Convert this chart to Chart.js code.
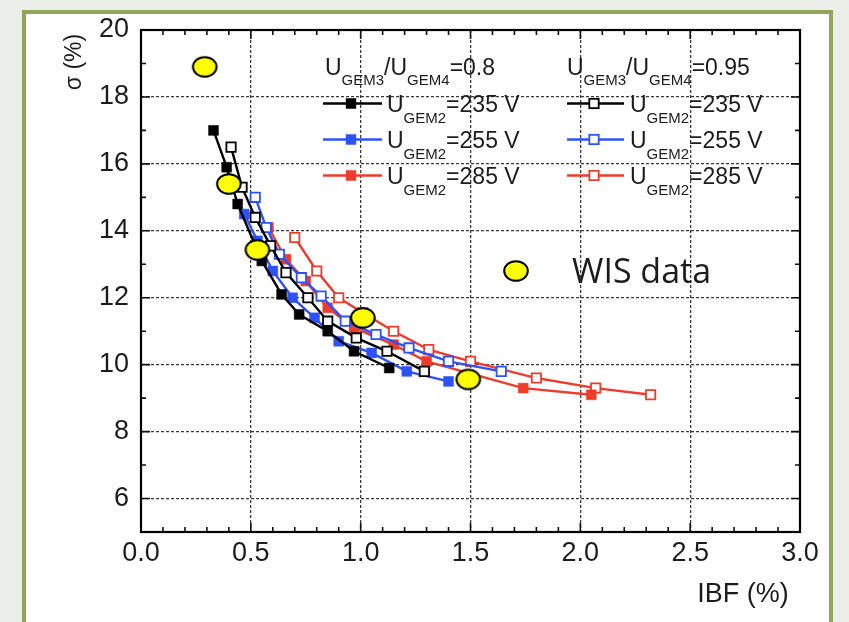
<!DOCTYPE html>
<html><head><meta charset="utf-8">
<script src="https://cdn.jsdelivr.net/npm/chart.js@4.4.0/dist/chart.umd.min.js"></script>
<style>
html,body{margin:0;padding:0;width:849px;height:622px;overflow:hidden;background:#eceee9;}
#frame{position:absolute;left:22px;top:10px;width:803px;height:640px;border:4px solid #8fa65b;background:#fff;}
#c{position:absolute;left:0;top:0;}
</style></head><body>
<div id="frame"></div>
<canvas id="c" width="849" height="622"></canvas>
<script>
const xTickValues = [0, 0.5, 1, 1.5, 2, 2.5, 3];
const xTickLabels = ['0.0', '0.5', '1.0', '1.5', '2.0', '2.5', '3.0'];
const yTickValues = [6, 8, 10, 12, 14, 16, 18, 20];
const yTickLabels = ['6', '8', '10', '12', '14', '16', '18', '20'];

// U_GEM3/U_GEM4 = 0.8 (filled squares)
const ibf_235_08 = [0.33, 0.39, 0.44, 0.55, 0.64, 0.72, 0.85, 0.97, 1.13];
const sigma_235_08 = [17.0, 15.9, 14.8, 13.1, 12.1, 11.5, 11.0, 10.4, 9.9];
const ibf_255_08 = [0.47, 0.53, 0.60, 0.69, 0.79, 0.90, 1.05, 1.21, 1.40];
const sigma_255_08 = [14.5, 13.7, 12.8, 12.0, 11.4, 10.7, 10.35, 9.8, 9.5];
const ibf_285_08 = [0.58, 0.66, 0.75, 0.85, 0.97, 1.15, 1.30, 1.74, 2.05];
const sigma_285_08 = [14.1, 13.15, 12.5, 11.7, 11.1, 10.6, 10.1, 9.3, 9.1];
// U_GEM3/U_GEM4 = 0.95 (open squares)
const ibf_235_095 = [0.41, 0.46, 0.52, 0.59, 0.66, 0.76, 0.85, 0.98, 1.12, 1.29];
const sigma_235_095 = [16.5, 15.3, 14.4, 13.55, 12.75, 12.0, 11.3, 10.8, 10.4, 9.8];
const ibf_255_095 = [0.52, 0.57, 0.63, 0.73, 0.82, 0.93, 1.07, 1.22, 1.40, 1.64];
const sigma_255_095 = [15.0, 14.1, 13.3, 12.6, 12.05, 11.3, 10.9, 10.5, 10.1, 9.8];
const ibf_285_095 = [0.70, 0.80, 0.90, 1.01, 1.15, 1.31, 1.50, 1.80, 2.07, 2.32];
const sigma_285_095 = [13.8, 12.8, 12.0, 11.55, 11.0, 10.45, 10.1, 9.6, 9.3, 9.1];
// WIS data
const ibf_wis = [0.29, 0.40, 0.53, 1.01, 1.49];
const sigma_wis = [18.9, 15.4, 13.43, 11.4, 9.56];

const BLACK = '#000000', BLUE = '#2d52f7', RED = '#ee3c2c';
const FONT = '"Liberation Sans", Arial, sans-serif';
const TXT = '#1c1c1c';

function pts(xs, ys) { return xs.map((x, i) => ({ x: x, y: ys[i] })); }

function makeEllipse() {
  const c = document.createElement('canvas');
  c.width = 28; c.height = 24;
  const g = c.getContext('2d');
  g.beginPath();
  g.ellipse(14, 12, 11.8, 9.8, 0, 0, Math.PI * 2);
  g.fillStyle = '#ffff00'; g.fill();
  g.lineWidth = 2; g.strokeStyle = '#000'; g.stroke();
  return c;
}
const ellipseImg = makeEllipse();

function series(xs, ys, color, filled, order) {
  return {
    data: pts(xs, ys), showLine: true, borderColor: color, borderWidth: 2.4,
    pointStyle: 'rect', pointRadius: filled ? 7 : 6.6,
    pointBackgroundColor: filled ? color : '#ffffff',
    pointBorderColor: color, pointBorderWidth: filled ? 0.5 : 1.8, order: order
  };
}

const datasets = [
  { data: pts(ibf_wis, sigma_wis), showLine: false, pointStyle: ellipseImg, pointRadius: 12, order: 0 },
  series(ibf_235_08, sigma_235_08, BLACK, true, 1),
  series(ibf_255_08, sigma_255_08, BLUE, true, 3),
  series(ibf_285_08, sigma_285_08, RED, true, 5),
  series(ibf_235_095, sigma_235_095, BLACK, false, 2),
  series(ibf_255_095, sigma_255_095, BLUE, false, 4),
  series(ibf_285_095, sigma_285_095, RED, false, 6)
];

const legendRows = [
  { ds: 1, col: 0, row: 0, label: '=235 V' },
  { ds: 2, col: 0, row: 1, label: '=255 V' },
  { ds: 3, col: 0, row: 2, label: '=285 V' },
  { ds: 4, col: 1, row: 0, label: '=235 V' },
  { ds: 5, col: 1, row: 1, label: '=255 V' },
  { ds: 6, col: 1, row: 2, label: '=285 V' }
];
const legendHeaders = ['=0.8', '=0.95'];

function drawRich(ctx, x, y, parts, size, subSize, drop) {
  for (const p of parts) {
    ctx.font = (p.sub ? subSize : size) + 'px ' + FONT;
    ctx.fillText(p.t, x, y + (p.sub ? drop : 0));
    x += ctx.measureText(p.t).width;
  }
}

const decor = {
  id: 'decor',
  afterDraw(chart) {
    const ctx = chart.ctx;
    const { left, right, top, bottom } = chart.chartArea;
    const xs = chart.scales.x, ys = chart.scales.y;
    ctx.save();
    // inward ticks
    ctx.strokeStyle = '#111'; ctx.lineWidth = 1.6;
    ctx.beginPath();
    for (let k = 0; k <= 30; k++) {
      const px = xs.getPixelForValue(k / 10);
      const len = k % 5 === 0 ? 9 : 5;
      ctx.moveTo(px, bottom); ctx.lineTo(px, bottom - len);
      ctx.moveTo(px, top); ctx.lineTo(px, top + len);
    }
    for (let v = 5; v <= 20; v++) {
      const py = ys.getPixelForValue(v);
      const len = v % 2 === 0 ? 9 : 5;
      ctx.moveTo(left, py); ctx.lineTo(left + len, py);
      ctx.moveTo(right, py); ctx.lineTo(right - len, py);
    }
    ctx.stroke();
    ctx.lineWidth = 2.2; ctx.strokeStyle = '#000';
    ctx.strokeRect(left, top, right - left, bottom - top);

    // legend
    ctx.fillStyle = TXT; ctx.textBaseline = 'alphabetic'; ctx.textAlign = 'left';
    const colX = [{ line0: 323, line1: 382, mk: 351, txt: 387, head: 325 },
                  { line0: 567, line1: 624, mk: 594, txt: 630, head: 567 }];
    const rowY = [103.5, 139.5, 175.5];
    for (let c = 0; c < 2; c++) {
      ctx.fillStyle = TXT;
      drawRich(ctx, colX[c].head, 75, [{ t: 'U' }, { t: 'GEM3', sub: true }, { t: '/U' }, { t: 'GEM4', sub: true }, { t: legendHeaders[c] }], 23, 15, 10);
    }
    for (const r of legendRows) {
      const d = chart.data.datasets[r.ds];
      const cx = colX[r.col], y = rowY[r.row];
      ctx.strokeStyle = d.borderColor; ctx.lineWidth = 2.6;
      ctx.beginPath(); ctx.moveTo(cx.line0, y); ctx.lineTo(cx.line1, y); ctx.stroke();
      const s = d.pointRadius * Math.SQRT1_2;
      ctx.fillStyle = d.pointBackgroundColor;
      ctx.fillRect(cx.mk - s, y - s, 2 * s, 2 * s);
      ctx.lineWidth = d.pointBorderWidth; ctx.strokeStyle = d.pointBorderColor;
      ctx.strokeRect(cx.mk - s, y - s, 2 * s, 2 * s);
      ctx.fillStyle = TXT;
      drawRich(ctx, cx.txt, y + 8.5, [{ t: 'U' }, { t: 'GEM2', sub: true }, { t: r.label }], 23, 15, 11);
    }
    // WIS legend
    ctx.drawImage(ellipseImg, 516 - ellipseImg.width / 2, 271 - ellipseImg.height / 2);
    ctx.fillStyle = TXT;
    ctx.font = '34px "Open Sans", sans-serif';
    ctx.fillText('WIS data', 572, 283);

    // axis titles
    ctx.font = '27px ' + FONT;
    ctx.textAlign = 'center';
    ctx.fillText('IBF (%)', 743, 602);
    ctx.save();
    ctx.translate(81, 62); ctx.rotate(-Math.PI / 2);
    ctx.font = '23px ' + FONT;
    ctx.fillText('\u03c3 (%)', 0, 0);
    ctx.restore();
    ctx.restore();
  }
};

new Chart(document.getElementById('c'), {
  type: 'scatter',
  data: { datasets: datasets },
  options: {
    responsive: false, animation: false,
    layout: { padding: { left: 0, top: 30, right: 49, bottom: 0 } },
    plugins: { legend: { display: false }, tooltip: { enabled: false } },
    scales: {
      x: {
        type: 'linear', min: 0, max: 3,
        afterBuildTicks: (s) => { s.ticks = xTickValues.map(v => ({ value: v })); },
        afterFit: (s) => { s.height = 90; },
        ticks: { padding: 5, color: TXT, font: { family: FONT, size: 27 },
                 callback: (v) => xTickLabels[xTickValues.indexOf(v)] },
        grid: { color: '#3a3a3a', lineWidth: 1.3, drawTicks: false },
        border: { display: false, dash: [3, 2] }
      },
      y: {
        type: 'linear', min: 5, max: 20,
        afterBuildTicks: (s) => { s.ticks = yTickValues.map(v => ({ value: v })); },
        afterFit: (s) => { s.width = 141; },
        ticks: { padding: 12, color: TXT, font: { family: FONT, size: 27 },
                 callback: (v) => yTickLabels[yTickValues.indexOf(v)] },
        grid: { color: '#3a3a3a', lineWidth: 1.3, drawTicks: false },
        border: { display: false, dash: [3, 2] }
      }
    }
  },
  plugins: [decor]
});
</script></body></html>
